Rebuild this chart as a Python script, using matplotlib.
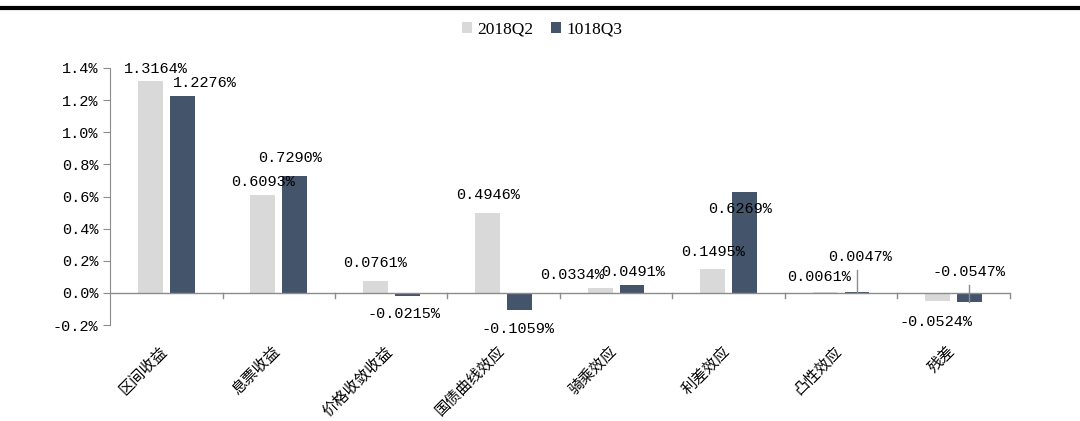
import numpy as np
import matplotlib.pyplot as plt
from matplotlib.lines import Line2D

plt.rcParams['font.family'] = ['Liberation Mono', 'Noto Sans CJK SC', 'DejaVu Sans']
plt.rcParams['axes.unicode_minus'] = False

categories = ['区间收益', '息票收益', '价格收敛收益', '国债曲线效应', '骑乘效应', '利差效应', '凸性效应', '残差']
q2 = [1.3164, 0.6093, 0.0761, 0.4946, 0.0334, 0.1495, 0.0061, -0.0524]
q3 = [1.2276, 0.7290, -0.0215, -0.1059, 0.0491, 0.6269, 0.0047, -0.0547]
series_names = ['2018Q2', '1018Q3']

# label offsets in points (dx, dy) from the bar end
q2_off = [(4, 4), (0, 4), (0, 8), (0, 8), (-20, 4), (0, 7), (-4, 6), (-1, -10)]
q3_off = [(16, 4), (-3, 8), (-2, -8), (-1, -9), (1, 4), (-3, -7), (2, 20), (0, 16)]

c_light = '#d9d9d9'
c_dark = '#44546a'
grid_c = '#8c8c8c'

fig = plt.figure(figsize=(10.8, 4.21), dpi=100)
ax = fig.add_axes([0.1019, 0.228, 0.833, 0.6105])

x = np.arange(len(categories))
w = 0.22
off = 0.142
ax.bar(x - off, q2, w, color=c_light, label=series_names[0], zorder=2)
ax.bar(x + off, q3, w, color=c_dark, label=series_names[1], zorder=2)

ax.set_xlim(-0.5, len(categories) - 0.5)
ax.set_ylim(-0.2, 1.4)
yt = np.arange(-0.2, 1.41, 0.2)
ax.set_yticks(yt)
ax.set_yticklabels([f'{v:.1f}%' for v in yt], fontsize=11)

for s in ['top', 'right', 'bottom']:
    ax.spines[s].set_visible(False)
ax.spines['left'].set_color(grid_c)
ax.tick_params(axis='y', colors=grid_c, labelcolor='black', length=5, direction='out')
ax.set_xticks([])

# zero line with category separators
ax.axhline(0, color=grid_c, lw=1, zorder=3)
for b in np.arange(0.5, len(categories), 1.0):
    ax.plot([b, b], [0, -0.03], color=grid_c, lw=1, clip_on=False, zorder=3)

def put_labels(xs, vals, offs):
    for xi, v, (dx, dy) in zip(xs, vals, offs):
        va = 'bottom' if dy >= 0 else 'top'
        ax.annotate(f'{v:.4f}%', (xi, v), xytext=(dx, dy), textcoords='offset points',
                    ha='center', va=va, fontsize=11, zorder=4)

put_labels(x - off, q2, q2_off)
put_labels(x + off, q3, q3_off)

# leader lines for the small labels
ax.plot([x[6] + off, x[6] + off], [q3[6], 0.145], color=grid_c, lw=1, zorder=3)
ax.plot([x[7] + off, x[7] + off], [q3[7], 0.05], color=grid_c, lw=1, zorder=3)

for xi, name in zip(x, categories):
    ax.text(xi - 0.065, -0.31, name, rotation=45, ha='right', va='top', fontsize=11,
            family=['Noto Sans CJK SC'], rotation_mode='anchor')

ax.legend(loc='upper center', bbox_to_anchor=(0.48, 1.24), ncol=2, frameon=False,
          prop={'family': 'Liberation Serif', 'size': 12.5}, handlelength=0.6,
          handleheight=0.6, columnspacing=1.0, handletextpad=0.3)

fig.add_artist(Line2D([0, 1], [0.98, 0.98], color='black', lw=3, transform=fig.transFigure))

fig.savefig('out.png', dpi=100, facecolor='white')
